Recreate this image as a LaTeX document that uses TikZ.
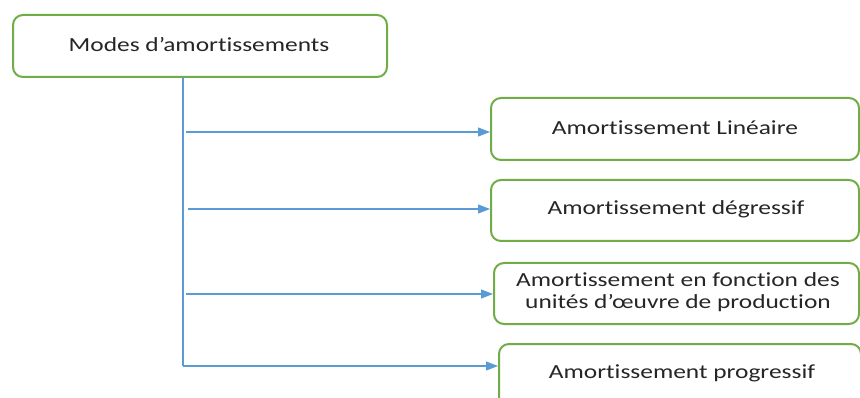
\documentclass[tikz,border=0pt]{standalone}
\usepackage{fontspec}
\setmainfont[Ligatures=NoCommon]{Carlito}
\usetikzlibrary{arrows.meta}
\definecolor{boxgreen}{HTML}{70AD47}
\definecolor{lineblue}{HTML}{5B9BD5}
\newcommand{\wtxt}[1]{\scalebox{1.27}[1]{#1}}
\begin{document}
\begin{tikzpicture}[x=1pt,y=-1pt,
  modebox/.style={draw=boxgreen,line width=2pt,rounded corners=10pt,fill=white,inner sep=0pt,anchor=north west},
  conn/.style={draw=lineblue,line width=1.2pt},
  arr/.style={conn,-{Triangle[length=12pt,width=9pt]}},
  lbl/.style={font=\fontsize{20}{22}\selectfont,text=black!85,align=center,inner sep=0pt}]
\useasboundingbox (0,0) rectangle (860,398);
\clip (0,0) rectangle (860,398);
\node[modebox,minimum width=374pt,minimum height=62pt] (top) at (12,14) {};
\node[lbl] (t0) at (199,45) {\wtxt{Modes d’amortissements}};
\node[modebox,minimum width=368pt,minimum height=62pt] (b1) at (490,97) {};
\node[lbl] (t1) at (675,128) {\wtxt{Amortissement Linéaire}};
\node[modebox,minimum width=368pt,minimum height=61pt] (b2) at (490,179) {};
\node[lbl] (t2) at (676,209) {\wtxt{Amortissement dégressif}};
\node[modebox,minimum width=365pt,minimum height=61pt] (b3) at (493,262) {};
\node[lbl] (t3) at (678,293) {\wtxt{\begin{tabular}{@{}c@{}}Amortissement en fonction des\\unités d’œuvre de production\end{tabular}}};
\node[modebox,minimum width=362pt,minimum height=70pt] (b4) at (498,343) {};
\node[lbl] (t4) at (682,373) {\wtxt{Amortissement progressif}};
\coordinate (v0) at (183,77);
\coordinate (v4) at (183,366);
\coordinate (s1) at (186,132);
\coordinate (s2) at (188,209);
\coordinate (s3) at (186,294);
\draw[conn] (v0) -- (v4);
\draw[arr] (s1) -- (s1 -| b1.west);
\draw[arr] (s2) -- (s2 -| b2.west);
\draw[arr] (s3) -- (s3 -| b3.west);
\draw[arr] (v4) -- (v4 -| b4.west);
\end{tikzpicture}
\end{document}
